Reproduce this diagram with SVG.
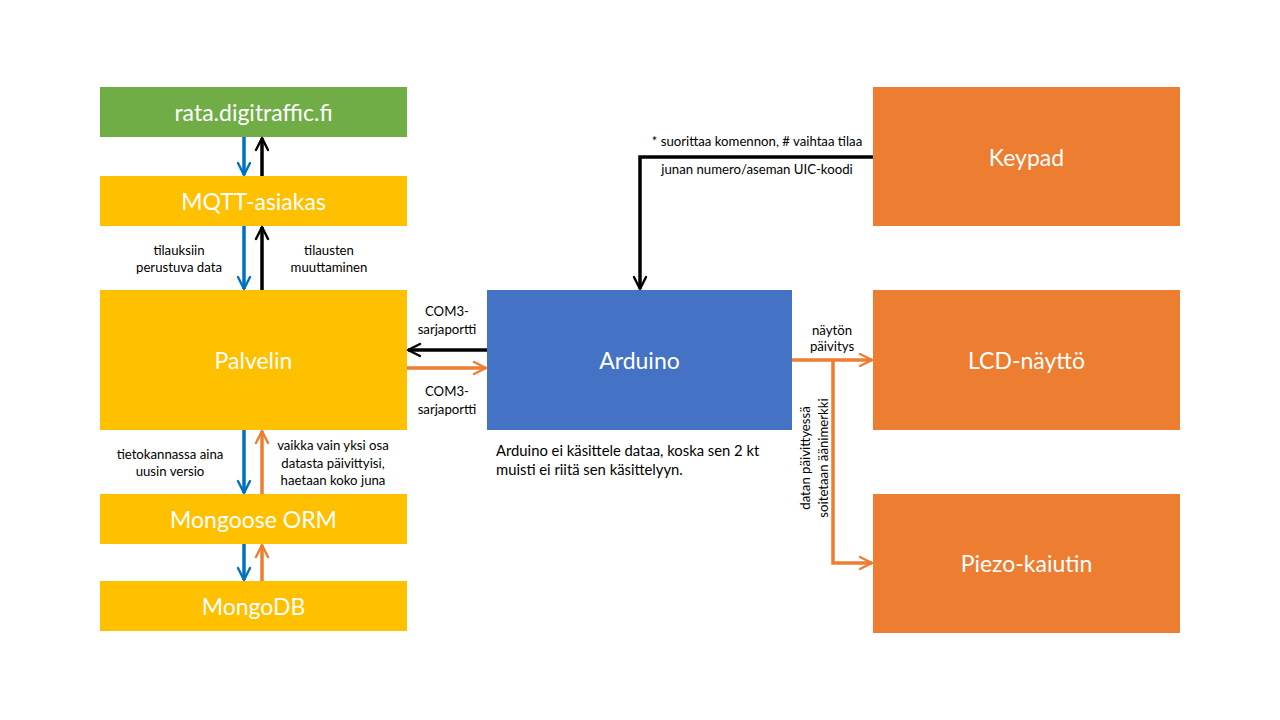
<svg xmlns="http://www.w3.org/2000/svg" width="1280" height="720" viewBox="0 0 1280 720">
<style>
.node{font-family:Lato,"Open Sans","Liberation Sans",sans-serif;font-size:23px;fill:#fff;text-anchor:middle;dominant-baseline:central}
.lbl{font-family:Lato,"Open Sans","Liberation Sans",sans-serif;font-size:13.2px;fill:#000;text-anchor:middle}
.note{font-family:Lato,"Open Sans","Liberation Sans",sans-serif;font-size:14.8px;fill:#000}
.blue{stroke:#0070C0;stroke-width:3.5;fill:none;marker-end:url(#hb)}
.blk{stroke:#000;stroke-width:3.5;fill:none;marker-end:url(#hk)}
.org{stroke:#ED7D31;stroke-width:3.5;fill:none;marker-end:url(#ho)}
</style>
<defs>
<marker id="hb" viewBox="0 0 10 10" refX="9" refY="5" markerWidth="4.3" markerHeight="4.3" orient="auto" markerUnits="strokeWidth"><path d="M1,1 L9,5 L1,9" fill="none" stroke="#0070C0" stroke-width="1.6" stroke-linecap="round" stroke-linejoin="round"/></marker>
<marker id="hk" viewBox="0 0 10 10" refX="9" refY="5" markerWidth="4.3" markerHeight="4.3" orient="auto" markerUnits="strokeWidth"><path d="M1,1 L9,5 L1,9" fill="none" stroke="#000" stroke-width="1.6" stroke-linecap="round" stroke-linejoin="round"/></marker>
<marker id="ho" viewBox="0 0 10 10" refX="9" refY="5" markerWidth="4.3" markerHeight="4.3" orient="auto" markerUnits="strokeWidth"><path d="M1,1 L9,5 L1,9" fill="none" stroke="#ED7D31" stroke-width="1.6" stroke-linecap="round" stroke-linejoin="round"/></marker>
</defs>
<rect width="1280" height="720" fill="#fff"/>
<g id="rata"><rect x="100" y="87" width="307" height="50" fill="#70AD47"/><text class="node" x="253.5" y="112">rata.digitraffic.fi</text></g>
<g id="mqtt"><rect x="100" y="176" width="307" height="50" fill="#FFC000"/><text class="node" x="253.5" y="201">MQTT-asiakas</text></g>
<g id="palvelin"><rect x="100" y="290" width="307" height="140" fill="#FFC000"/><text class="node" x="253.5" y="360">Palvelin</text></g>
<g id="mongoose"><rect x="100" y="494" width="307" height="50" fill="#FFC000"/><text class="node" x="253.5" y="519">Mongoose ORM</text></g>
<g id="mongodb"><rect x="100" y="581" width="307" height="50" fill="#FFC000"/><text class="node" x="253.5" y="606">MongoDB</text></g>
<g id="arduino"><rect x="487" y="290" width="305" height="140" fill="#4472C4"/><text class="node" x="639.5" y="360">Arduino</text></g>
<g id="keypad"><rect x="873" y="87" width="307" height="139" fill="#ED7D31"/><text class="node" x="1026.5" y="157">Keypad</text></g>
<g id="lcd"><rect x="873" y="290" width="307" height="140" fill="#ED7D31"/><text class="node" x="1026.5" y="360">LCD-näyttö</text></g>
<g id="piezo"><rect x="873" y="494" width="307" height="139" fill="#ED7D31"/><text class="node" x="1026.5" y="563">Piezo-kaiutin</text></g>
<g id="connectors">
<path class="blue" d="M244,137 V175"/>
<path class="blk" d="M262,176 V138"/>
<path class="blue" d="M244,226 V289"/>
<path class="blk" d="M262,290 V227"/>
<path class="blue" d="M244,430 V493"/>
<path class="org" d="M262,494 V431"/>
<path class="blue" d="M244,544 V580"/>
<path class="org" d="M262,581 V545"/>
<path class="blk" d="M487,350 H408"/>
<path class="org" d="M407,368 H486"/>
<path class="blk" d="M873,157 H640 V289"/>
<path class="org" d="M792,360 H872"/>
<path class="org" d="M833,360 V563 H872"/>
</g>
<g id="labels">
<text class="lbl" x="179" y="255">tilauksiin</text>
<text class="lbl" x="179" y="272">perustuva data</text>
<text class="lbl" x="329" y="255">tilausten</text>
<text class="lbl" x="329" y="272">muuttaminen</text>
<text class="lbl" x="170" y="459">tietokannassa aina</text>
<text class="lbl" x="170" y="476">uusin versio</text>
<text class="lbl" x="333" y="450">vaikka vain yksi osa</text>
<text class="lbl" x="333" y="468">datasta päivittyisi,</text>
<text class="lbl" x="333" y="485">haetaan koko juna</text>
<text class="lbl" x="447" y="316">COM3-</text>
<text class="lbl" x="447" y="334">sarjaportti</text>
<text class="lbl" x="447" y="396">COM3-</text>
<text class="lbl" x="447" y="414">sarjaportti</text>
<text class="lbl" x="757" y="146">* suorittaa komennon, # vaihtaa tilaa</text>
<text class="lbl" x="757" y="174">junan numero/aseman UIC-koodi</text>
<text class="lbl" x="832" y="335">näytön</text>
<text class="lbl" x="832" y="351">päivitys</text>
<text class="lbl" transform="translate(810,458) rotate(-90)">datan päivittyessä</text>
<text class="lbl" transform="translate(828,458) rotate(-90)">soitetaan äänimerkki</text>
<text class="note" x="496" y="456">Arduino ei käsittele dataa, koska sen 2 kt</text>
<text class="note" x="496" y="475">muisti ei riitä sen käsittelyyn.</text>
</g>
</svg>
